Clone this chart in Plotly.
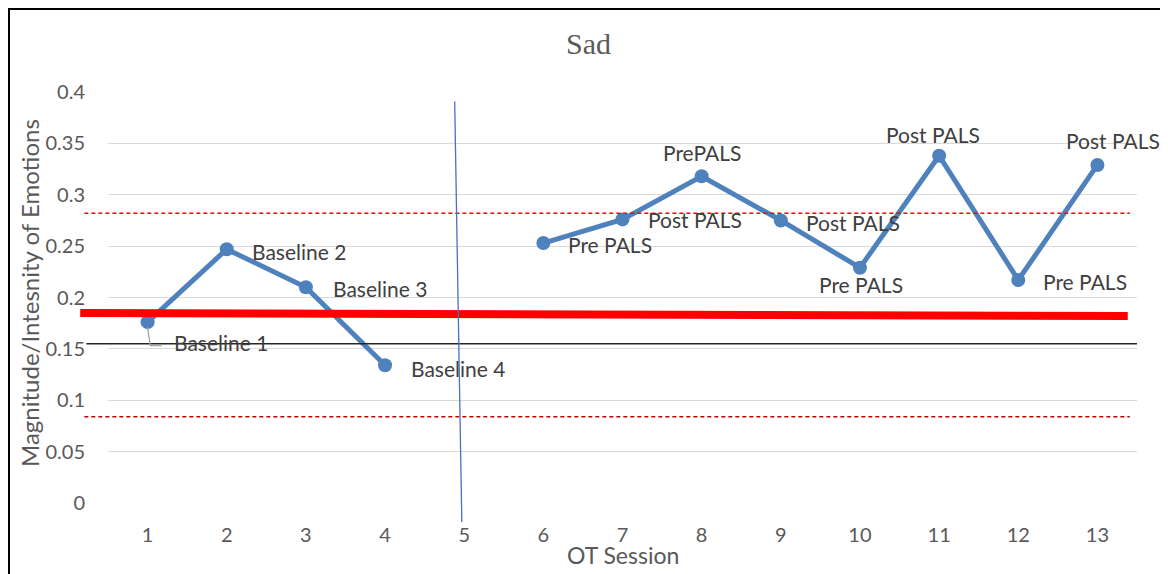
import plotly.graph_objects as go

# ---- data ----
sessions = [1, 2, 3, 4, 5, 6, 7, 8, 9, 10, 11, 12, 13]
sad_values = [0.176, 0.247, 0.210, 0.134, None, 0.253, 0.276, 0.318, 0.275, 0.229, 0.338, 0.217, 0.329]
point_labels = ["Baseline 1", "Baseline 2", "Baseline 3", "Baseline 4", "",
                "Pre PALS", "Post PALS", "PrePALS", "Post PALS", "Pre PALS",
                "Post PALS", "Pre PALS", "Post PALS"]
y_ticks = [0, 0.05, 0.1, 0.15, 0.2, 0.25, 0.3, 0.35, 0.4]
y_tick_text = ["0", "0.05", "0.1", "0.15", "0.2", "0.25", "0.3", "0.35", "0.4"]

trend_level = [0.185, 0.182]      # thick red line (start, end)
upper_limit = 0.282               # red dashed
lower_limit = 0.084               # dark red dashed
mean_level = 0.155                # black line
phase_line_x = [4.88, 4.97]       # blue phase-change line (top, bottom)

# label placement: (xanchor, xshift, yshift)
label_pos = [("left", 24, -20), ("left", 23, -2), ("left", 25, -1), ("left", 24, -3), None,
             ("left", 23, -1), ("left", 23, 0), ("center", 0, 24), ("left", 23, -2),
             ("center", 1, -17), ("center", -6, 21), ("left", 23, -1), ("center", 16, 24)]

font_family = "Lato"
gray = "#595959"
label_color = "#404040"

fig = go.Figure()
fig.add_trace(go.Scatter(
    x=sessions, y=sad_values, mode="lines+markers",
    line=dict(color="#4F81BD", width=5),
    marker=dict(color="#4F81BD", size=14),
    connectgaps=False, showlegend=False, cliponaxis=False,
))

annotations = []
for xv, yv, txt, pos in zip(sessions, sad_values, point_labels, label_pos):
    if yv is None or pos is None:
        continue
    xa, xs, ys = pos
    annotations.append(dict(x=xv, y=yv, xref="x", yref="y", text=txt, showarrow=False,
                            xanchor=xa, yanchor="middle", xshift=xs, yshift=ys,
                            font=dict(family=font_family, size=21, color=label_color)))

# axis titles and chart title
annotations.append(dict(x=0.5005, y=-0.1265, xref="paper", yref="paper", text="OT Session",
                        showarrow=False, xanchor="center", yanchor="middle",
                        font=dict(family=font_family, size=23, color=gray)))
annotations.append(dict(x=-0.0758, y=0.511, xref="paper", yref="paper",
                        text="Magnitude/Intesnity of Emotions", textangle=-90,
                        showarrow=False, xanchor="center", yanchor="middle",
                        font=dict(family=font_family, size=24, color=gray)))
annotations.append(dict(x=0.4665, y=1.117, xref="paper", yref="paper", text="Sad",
                        showarrow=False, xanchor="center", yanchor="middle",
                        font=dict(family="Liberation Serif", size=30, color=gray)))

shapes = [
    # outer frame
    dict(type="rect", xref="paper", yref="paper", x0=-0.0962, x1=1.2, y0=-0.4, y1=1.2019,
         line=dict(color="black", width=2), fillcolor="rgba(0,0,0,0)", layer="above"),
    # thick red trend line
    dict(type="line", xref="paper", yref="y", x0=-0.027, x1=0.991,
         y0=trend_level[0], y1=trend_level[1], line=dict(color="#FF0000", width=8)),
    # upper dashed
    dict(type="line", xref="paper", yref="y", x0=-0.023, x1=0.993,
         y0=upper_limit, y1=upper_limit, line=dict(color="#FF0000", width=1.6, dash="4px,3px")),
    # lower dashed
    dict(type="line", xref="paper", yref="y", x0=-0.023, x1=0.993,
         y0=lower_limit, y1=lower_limit, line=dict(color="#C00000", width=1.6, dash="4px,3px")),
    # black mean line
    dict(type="line", xref="paper", yref="y", x0=-0.021, x1=1.0,
         y0=mean_level, y1=mean_level, line=dict(color="#262626", width=1.3)),
    # blue phase line
    dict(type="line", xref="x", yref="paper", x0=phase_line_x[0], x1=phase_line_x[1],
         y0=0.977, y1=-0.046, line=dict(color="#4472C4", width=1.3)),
]

# leader line for the first label (relative to the first point)
x1p, y1p = sessions[0], sad_values[0]
shapes.append(dict(type="path", xref="x", yref="y",
                   path=f"M {x1p} {y1p - 0.005} L {x1p + 0.034} {y1p - 0.0227} L {x1p + 0.177} {y1p - 0.0227}",
                   line=dict(color="#A6A6A6", width=1.3)))

fig.update_layout(
    width=1160, height=566,
    margin=dict(l=100, r=31, t=84, b=71),
    paper_bgcolor="white", plot_bgcolor="white",
    shapes=shapes, annotations=annotations,
    xaxis=dict(range=[0.5, 13.5], tickvals=sessions, ticktext=[str(s) for s in sessions],
               showgrid=False, zeroline=False, showline=False, ticks="",
               tickfont=dict(family=font_family, size=20, color=gray), ticklabelstandoff=18),
    yaxis=dict(range=[0, 0.4], tickvals=y_ticks, ticktext=y_tick_text,
               showgrid=True, gridcolor="#D9D9D9", gridwidth=1.3, zeroline=False,
               showline=False, ticks="",
               tickfont=dict(family=font_family, size=20, color=gray), ticklabelstandoff=22),
)

fig.write_html("out.html")
